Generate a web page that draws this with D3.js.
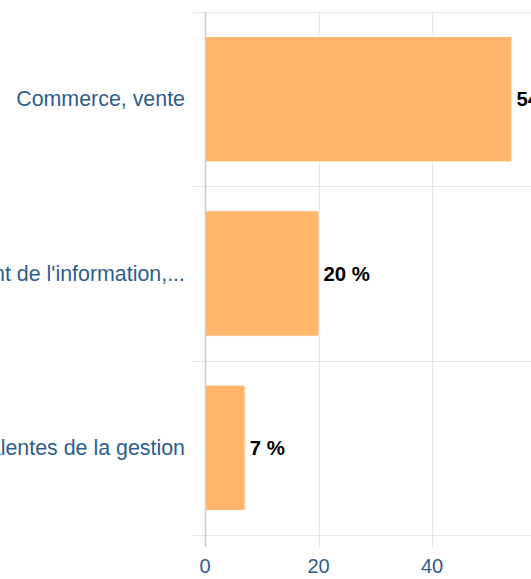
<!DOCTYPE html>
<html>
<head>
<meta charset="utf-8">
<script src="https://cdn.jsdelivr.net/npm/d3@7/dist/d3.min.js"></script>
<style>
  html, body { margin: 0; padding: 0; background: #fff; overflow: hidden; }
  svg { display: block; font-family: "Liberation Sans", Arial, sans-serif; }
</style>
</head>
<body>
<svg id="chart" width="531" height="579"></svg>
<script>
// Share of trainees by training specialty (percent)
const categories = [
  "Commerce, vente",
  "Informatique, traitement de l'information,...",
  "Spécialités plurivalentes de la gestion"
];
const values = [54, 20, 7];
const tickValues = [0, 20, 40];

const W = 531, H = 579;
const plot = { left: 205, top: 12, bottom: 535, right: 545.5 };

const svg = d3.select("#chart");

const x = d3.scaleLinear().domain([0, 60]).range([plot.left, plot.right]);
const y = d3.scaleBand()
  .domain(categories)
  .range([plot.top, plot.bottom])
  .paddingInner(0.28)
  .paddingOuter(0.14);

const gridColor = "#e6e6e6";
const labelColor = "#2f5e8b";

// Category separators (band edges), with a short tick to the left
const step = y.step();
const edges = d3.range(categories.length + 1).map(i => plot.top + i * step);
svg.append("g").selectAll("line").data(edges).join("line")
  .attr("x1", plot.left - 13).attr("x2", W)
  .attr("y1", d => Math.round(d) + 0.5).attr("y2", d => Math.round(d) + 0.5)
  .attr("stroke", gridColor).attr("stroke-width", 1);

// Value gridlines, extending below the plot as tick marks
svg.append("g").selectAll("line").data(tickValues.slice(1)).join("line")
  .attr("x1", d => Math.round(x(d)) + 0.5).attr("x2", d => Math.round(x(d)) + 0.5)
  .attr("y1", plot.top).attr("y2", plot.bottom + 12)
  .attr("stroke", gridColor).attr("stroke-width", 1);

// Bars
svg.append("g").selectAll("rect").data(values).join("rect")
  .attr("x", x(0) + 0.5)
  .attr("y", (d, i) => y(categories[i]))
  .attr("width", d => x(d) - x(0))
  .attr("height", y.bandwidth())
  .attr("fill", "#ffb263")
  .attr("fill-opacity", 0.95)
  .attr("stroke", "#ffffff")
  .attr("stroke-width", 1);

// Category axis line
svg.append("line")
  .attr("x1", Math.round(x(0)) + 0.5).attr("x2", Math.round(x(0)) + 0.5)
  .attr("y1", plot.top).attr("y2", plot.bottom + 12)
  .attr("stroke", "#cccccc").attr("stroke-width", 1.5);

// Category labels
svg.append("g").selectAll("text").data(categories).join("text")
  .attr("x", plot.left - 20)
  .attr("y", d => y(d) + y.bandwidth() / 2)
  .attr("text-anchor", "end")
  .attr("dominant-baseline", "central")
  .attr("font-size", 21.4)
  .attr("fill", labelColor)
  .text(d => d);

// Value tick labels
svg.append("g").selectAll("text").data(tickValues).join("text")
  .attr("x", d => x(d))
  .attr("y", 573)
  .attr("text-anchor", "middle")
  .attr("font-size", 20)
  .attr("fill", labelColor)
  .text(d => d);

// Data labels with white halo
svg.append("g").selectAll("text").data(values).join("text")
  .attr("x", d => x(d) + 5)
  .attr("y", (d, i) => y(categories[i]) + y.bandwidth() / 2)
  .attr("dominant-baseline", "central")
  .attr("font-size", 20.4)
  .attr("font-weight", "bold")
  .attr("fill", "#000")
  .attr("stroke", "#fff")
  .attr("stroke-width", 2)
  .attr("paint-order", "stroke")
  .text(d => d + " %");
</script>
</body>
</html>
